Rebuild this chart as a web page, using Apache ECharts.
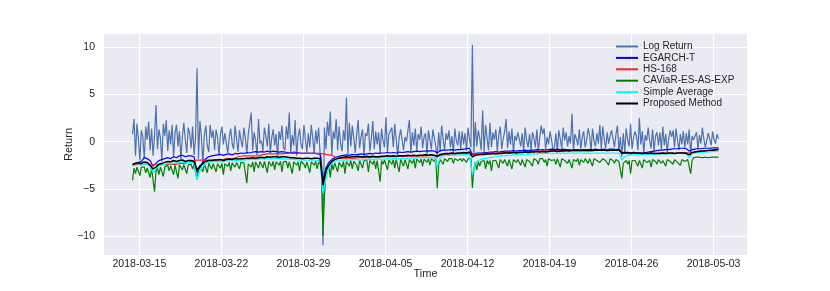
<!DOCTYPE html>
<html><head><meta charset="utf-8">
<script src="https://cdn.jsdelivr.net/npm/echarts@6/dist/echarts.min.js"></script>
<style>html,body{margin:0;padding:0;background:#fff}#c{width:830px;height:291px}</style>
</head><body><div id="c"></div>
<script>
// Time is measured in days from 2018-03-15 00:00; series start 2018-03-14 10:00
const startDay = -14/24;
const fineStepDays = 1/8;   // 3-hourly readings
const coarseStepDays = 1/4; // 6-hourly readings
const seriesNames = ['Log Return','EGARCH-T','HS-168','CAViaR-ES-AS-EXP','Simple Average','Proposed Method'];
const xTickDays = [0,7,14,21,28,35,42,49];
const yTicks = [-10,-5,0,5,10];

const logReturn = [
0.8,2.4,-1.5,1.9,0.3,-2.0,1.2,0.5,
-1.8,1.6,0.2,2.1,-0.9,1.4,-1.5,0.6,
3.9,-0.8,1.3,0.4,-2.1,1.9,0.6,2.3,
-1.0,1.2,-0.3,1.8,-1.6,0.9,1.8,-0.5,
1.1,-1.9,0.5,2.0,0.2,-1.2,1.5,0.9,
-0.7,1.6,-1.4,0.4,7.8,-1.8,2.2,0.6,
-2.4,0.7,1.7,-0.4,-1.1,1.8,0.4,1.2,
-0.9,1.3,0.5,-1.5,0.8,1.6,-0.3,0.9,
1.0,-1.2,0.5,1.4,-0.2,-0.8,1.7,0.3,
-1.1,1.2,0.2,-0.6,1.5,0.4,-1.3,0.8,
0.6,3.1,-0.9,1.0,0.1,-1.4,2.4,-0.2,
0.1,-1.0,1.5,0.6,-0.5,1.9,-1.2,0.4,
1.3,-0.4,0.8,-1.6,1.1,0.2,1.7,-0.6,
-0.9,1.6,0.3,3.1,-1.2,0.7,-0.4,2.3,
-1.5,0.5,1.4,-0.3,-0.8,1.8,0.2,-1.1,
0.9,-0.6,1.8,0.4,-1.3,1.2,-0.2,1.5,
-1.2,-1.9,-11.0,1.5,-0.8,2.1,0.6,3.2,
-1.4,1.1,0.3,2.4,-0.9,1.6,-0.2,-1.0,
1.2,0.1,4.7,-1.3,2.0,-0.5,1.7,0.4,
-1.2,0.8,2.3,-0.7,0.5,1.3,-1.5,0.9,
0.6,1.9,-1.0,0.3,2.2,-0.8,1.1,-0.3,
1.0,-1.3,1.4,0.1,-0.6,2.6,-1.1,0.8,
0.7,1.5,-0.6,1.9,0.2,-1.4,0.4,1.3,
1.1,-0.9,0.5,0.0,1.2,2.3,-1.2,1.0,
-0.4,1.4,-1.0,0.8,0.2,1.6,-0.7,0.5,
0.9,-1.3,1.2,0.2,-0.8,1.3,0.4,-0.5,
-1.5,1.0,-1.1,1.7,0.3,-0.9,0.9,0.2,
1.2,-0.6,0.6,-1.2,1.4,0.1,-0.4,1.1,
-0.8,1.1,-0.3,0.9,-1.0,1.5,0.3,-0.6,
10.3,-1.4,2.1,-0.5,1.2,0.4,-0.9,3.3,
-1.1,1.8,0.4,-0.9,2.0,-0.6,1.0,0.2,
1.3,-1.0,0.7,1.6,-0.8,0.3,1.1,2.4,
-0.7,1.1,-0.3,1.4,-1.1,0.6,0.1,1.0,
1.2,-0.5,0.9,-1.0,1.5,0.2,-0.6,0.8,
-0.9,1.0,0.4,-0.6,1.3,-1.0,0.5,1.7,
0.8,1.4,-0.8,0.5,-0.3,1.1,0.2,-0.9,
-0.6,0.9,-1.1,1.2,0.3,-0.7,1.5,0.1,
1.0,-0.5,0.6,-0.2,3.0,-0.9,0.8,0.3,
-0.4,1.3,-0.8,0.5,1.1,-0.6,0.2,1.4,
0.7,-1.0,1.4,0.1,-0.5,0.9,-0.2,1.8,
-0.8,1.6,0.3,-0.7,1.0,-0.2,0.6,1.2,
1.2,-0.6,0.8,1.7,-0.9,0.5,-1.6,0.9,
-1.1,1.4,0.2,-0.5,1.9,-0.8,0.4,1.1,
0.6,-0.9,2.5,-0.3,1.1,-1.2,0.7,0.1,
1.5,0.1,-0.7,1.3,-1.0,0.6,1.0,-0.4,
1.0,-0.8,1.6,-0.4,0.8,-1.1,0.3,1.2,
0.5,1.2,-0.6,1.4,0.2,-0.9,0.8,-0.3,
1.1,-0.7,0.9,-0.3,1.3,-1.4,0.6,0.2,
0.4,1.0,-0.8,0.7,-0.2,1.5,0.3,-0.6,
-0.5,0.9,0.3,-0.4,1.1,0.2,-0.2,0.8,
0.3];

const caviar = [
-4.1,-2.8,-3.4,-2.7,-2.9,-3.6,-2.7,-2.8,
-2.7,-3.3,-2.8,-2.9,-3.8,-2.8,-3.0,-5.3,
-3.2,-2.8,-3.5,-2.7,-2.8,-3.7,-2.7,-2.9,
-2.5,-3.1,-2.55,-2.5,-3.5,-2.5,-2.6,-3.9,
-2.45,-2.4,-3.0,-2.45,-2.4,-3.4,-2.45,-2.5,
-2.4,-2.9,-2.45,-2.4,-4.0,-3.0,-2.5,-2.45,
-3.2,-2.35,-2.4,-3.3,-2.3,-2.35,-2.9,-2.35,
-2.3,-3.2,-2.35,-2.3,-2.8,-2.3,-3.5,-2.35,
-2.25,-2.6,-2.2,-3.1,-2.25,-2.25,-2.7,-2.2,
-2.25,-2.9,-2.2,-2.35,-2.25,-2.2,-4.4,-2.35,
-2.2,-2.7,-2.15,-3.2,-2.15,-2.2,-2.8,-2.1,
-2.15,-2.8,-2.1,-2.2,-3.3,-2.1,-2.15,-2.6,
-2.1,-3.0,-2.15,-2.1,-2.5,-2.1,-3.2,-2.15,
-2.15,-2.1,-2.8,-2.15,-2.1,-3.4,-2.15,-2.1,
-2.5,-2.15,-3.1,-2.1,-2.15,-2.4,-2.8,-2.15,
-2.1,-3.3,-2.15,-2.15,-2.5,-2.1,-2.9,-2.2,
-2.2,-2.5,-10.0,-5.8,-3.4,-2.8,-2.5,-3.8,
-2.35,-3.0,-2.25,-2.3,-3.2,-2.2,-2.4,-2.7,
-2.1,-3.4,-2.1,-2.15,-2.6,-2.0,-2.9,-2.1,
-2.0,-2.5,-3.1,-2.0,-2.1,-2.8,-2.0,-2.05,
-2.0,-3.2,-2.0,-2.05,-2.4,-2.0,-2.9,-2.0,
-2.05,-4.25,-2.0,-2.4,-1.95,-2.0,-3.0,-1.95,
-1.95,-2.4,-1.9,-2.8,-1.9,-1.95,-3.2,-1.9,
-1.9,-2.6,-1.9,-1.95,-2.9,-1.9,-1.9,-2.3,
-1.85,-2.8,-1.85,-1.9,-2.2,-1.85,-2.6,-1.85,
-1.85,-2.2,-1.8,-2.5,-1.8,-1.85,-2.1,-1.8,
-4.95,-2.4,-1.9,-1.9,-2.4,-1.8,-1.9,-2.1,
-1.8,-2.0,-1.8,-2.3,-1.8,-1.8,-2.0,-1.8,
-1.8,-2.1,-1.8,-1.8,-2.2,-1.8,-1.9,-1.8,
-4.9,-2.9,-2.2,-3.0,-2.1,-2.6,-2.1,-2.2,
-2.0,-2.9,-2.0,-2.4,-2.0,-3.1,-2.0,-2.1,
-2.0,-2.2,-2.8,-1.9,-2.0,-2.3,-1.9,-2.0,
-2.6,-1.9,-2.0,-2.9,-1.9,-1.9,-2.2,-1.9,
-1.9,-2.5,-1.9,-2.0,-2.7,-1.9,-1.9,-2.1,
-1.9,-2.6,-1.8,-1.9,-2.0,-2.4,-1.8,-1.9,
-1.8,-2.2,-1.9,-2.6,-1.8,-1.9,-2.0,-1.8,
-1.9,-2.4,-1.8,-1.9,-2.7,-1.8,-1.9,-2.0,
-1.9,-2.3,-1.9,-1.9,-2.8,-1.9,-2.0,-2.1,
-1.8,-2.5,-1.9,-1.8,-2.2,-1.8,-1.9,-2.3,
-1.8,-1.9,-2.6,-1.8,-1.9,-2.0,-1.8,-2.2,
-2.4,-1.8,-1.9,-2.0,-1.8,-2.5,-1.8,-1.9,
-2.0,-2.3,-1.9,-1.9,-2.1,-1.9,-3.9,-2.3,
-2.2,-2.0,-2.4,-2.0,-3.4,-2.0,-2.2,-2.0,
-1.9,-2.6,-2.0,-1.9,-2.8,-1.9,-2.0,-2.2,
-2.2,-2.0,-2.7,-1.9,-2.0,-2.1,-2.4,-1.9,
-1.9,-2.3,-2.0,-1.9,-2.6,-1.9,-2.0,-2.1,
-2.0,-2.4,-1.9,-1.9,-2.2,-2.0,-2.5,-1.9,
-1.9,-2.1,-2.3,-1.9,-2.0,-3.4,-2.0,-1.7,
-1.7,-1.65,-1.7,-1.65,-1.65,-1.7,-1.65,-1.65,
-1.65,-1.7,-1.65,-1.65,-1.65,-1.65,-1.65,-1.65,
-1.65];

const egarchT = [
-2.5,-2.3,-2.2,-2.1,
-1.7,-1.8,-2.0,-2.6,
-2.3,-2.0,-1.9,-1.8,
-1.7,-1.8,-1.6,-1.7,
-1.5,-1.45,-1.6,-1.5,
-1.5,-1.6,-3.3,-2.7,
-2.2,-1.8,-1.6,-1.5,
-1.45,-1.4,-1.35,-1.45,
-1.35,-1.3,-1.4,-1.25,
-1.3,-1.2,-1.25,-1.15,
-1.2,-1.1,-1.05,-1.1,
-1.05,-1.1,-1.0,-1.1,
-1.0,-1.05,-1.1,-1.05,
-1.1,-1.15,-1.2,-1.1,
-1.15,-1.2,-1.25,-1.2,
-1.2,-1.25,-1.2,-1.3,
-1.3,-4.2,-2.8,-2.2,
-1.9,-1.7,-1.6,-1.5,
-1.45,-1.4,-1.45,-1.35,
-1.4,-1.35,-1.3,-1.35,
-1.3,-1.25,-1.3,-1.2,
-1.25,-1.2,-1.2,-1.15,
-1.2,-1.15,-1.2,-1.1,
-1.15,-1.1,-1.05,-1.1,
-1.05,-1.0,-1.05,-1.0,
-1.0,-1.0,-0.95,-1.0,
-1.2,-0.95,-0.9,-0.9,
-0.88,-0.85,-0.9,-0.85,
-0.85,-0.8,-0.75,-0.7,
-1.35,-1.25,-1.2,-1.2,
-1.15,-1.15,-1.1,-1.1,
-1.05,-1.1,-1.05,-1.0,
-1.0,-1.0,-0.95,-1.0,
-0.95,-0.95,-0.9,-0.95,
-0.9,-0.9,-0.85,-0.9,
-0.85,-0.9,-0.85,-0.8,
-0.85,-0.8,-0.85,-0.8,
-0.85,-0.85,-0.9,-0.85,
-0.85,-0.9,-0.85,-0.85,
-0.85,-0.85,-0.8,-0.85,
-0.85,-0.8,-0.85,-0.8,
-0.8,-0.85,-0.8,-1.25,
-1.25,-1.25,-1.3,-1.25,
-1.25,-1.2,-1.2,-1.15,
-1.1,-1.05,-1.0,-0.95,
-0.9,-0.9,-0.85,-0.85,
-0.8,-0.75,-0.75,-0.7,
-0.7,-0.75,-1.0,-0.85,
-0.8,-0.75,-0.75,-0.7,
-0.7,-0.7,-0.65,-0.65,
-0.65];

const hs168 = [
-2.4,-2.4,-2.4,-2.4,
-2.4,-2.4,-2.45,-2.45,
-2.45,-2.45,-2.45,-2.45,
-2.4,-2.4,-2.4,-2.4,
-2.3,-2.3,-2.3,-2.2,
-2.1,-2.0,-1.95,-1.95,
-1.95,-1.95,-1.95,-1.95,
-1.95,-1.9,-1.9,-1.9,
-1.8,-1.8,-1.8,-1.75,
-1.6,-1.55,-1.5,-1.5,
-1.5,-1.5,-1.5,-1.5,
-1.4,-1.35,-1.3,-1.3,
-1.3,-1.3,-1.3,-1.3,
-1.25,-1.25,-1.25,-1.25,
-1.25,-1.25,-1.25,-1.25,
-1.25,-1.25,-1.25,-1.25,
-1.25,-1.3,-1.35,-1.4,
-1.45,-1.6,-1.75,-1.75,
-1.75,-1.75,-1.75,-1.75,
-1.75,-1.7,-1.7,-1.7,
-1.7,-1.7,-1.65,-1.65,
-1.65,-1.65,-1.6,-1.6,
-1.6,-1.6,-1.6,-1.55,
-1.55,-1.55,-1.55,-1.5,
-1.5,-1.5,-1.5,-1.5,
-1.5,-1.45,-1.45,-1.45,
-1.5,-1.45,-1.4,-1.4,
-1.35,-1.35,-1.3,-1.3,
-1.3,-1.3,-1.3,-1.3,
-1.3,-1.3,-1.25,-1.25,
-1.25,-1.25,-1.2,-1.2,
-1.2,-1.2,-1.15,-1.15,
-1.15,-1.15,-1.1,-1.1,
-1.1,-1.1,-1.05,-1.05,
-1.05,-1.05,-1.0,-1.0,
-1.0,-1.0,-1.0,-0.95,
-0.95,-0.95,-0.95,-0.95,
-0.95,-0.95,-0.95,-0.95,
-0.95,-0.95,-0.95,-0.95,
-0.95,-0.95,-0.9,-0.9,
-0.9,-0.9,-0.9,-0.9,
-0.9,-0.9,-0.9,-1.1,
-1.2,-1.2,-1.25,-1.25,
-1.25,-1.25,-1.25,-1.25,
-1.25,-1.25,-1.25,-1.25,
-1.2,-1.2,-1.2,-1.2,
-1.2,-1.2,-1.2,-1.15,
-1.15,-1.15,-1.2,-1.15,
-1.1,-1.05,-1.0,-1.0,
-0.95,-0.95,-0.9,-0.9,
-0.9];

const simpleAvg = [
-2.6,-2.5,-2.45,-2.5,
-2.35,-2.4,-2.7,-3.3,
-2.9,-2.6,-2.45,-2.4,
-2.3,-2.35,-2.25,-2.3,
-2.2,-2.15,-2.25,-2.2,
-2.2,-2.3,-4.0,-3.1,
-2.6,-2.35,-2.2,-2.15,
-2.1,-2.15,-2.1,-2.15,
-2.05,-2.0,-2.05,-2.0,
-2.0,-1.95,-1.95,-1.9,
-1.9,-1.85,-1.9,-1.85,
-1.8,-1.85,-1.8,-1.85,
-1.8,-1.75,-1.8,-1.8,
-1.8,-1.85,-1.85,-1.9,
-1.9,-1.95,-1.9,-1.95,
-1.95,-1.9,-1.95,-2.0,
-2.0,-5.5,-3.9,-2.8,
-2.3,-2.1,-2.0,-1.95,
-1.95,-1.9,-1.95,-1.9,
-1.9,-1.9,-1.95,-1.9,
-1.9,-1.85,-1.9,-1.85,
-1.85,-1.9,-1.85,-1.8,
-1.85,-1.8,-1.8,-1.8,
-1.75,-1.8,-1.75,-1.75,
-1.7,-1.75,-1.7,-1.7,
-1.7,-1.65,-1.7,-1.65,
-2.65,-1.7,-1.5,-1.45,
-1.45,-1.4,-1.45,-1.4,
-1.4,-1.4,-1.35,-1.35,
-3.5,-2.3,-2.0,-1.85,
-1.8,-1.75,-1.7,-1.65,
-1.6,-1.55,-1.5,-1.5,
-1.45,-1.45,-1.4,-1.4,
-1.4,-1.35,-1.35,-1.35,
-1.3,-1.3,-1.3,-1.25,
-1.25,-1.25,-1.25,-1.25,
-1.25,-1.2,-1.25,-1.2,
-1.25,-1.2,-1.2,-1.25,
-1.2,-1.2,-1.25,-1.2,
-1.25,-1.2,-1.2,-1.25,
-1.2,-1.2,-1.25,-1.2,
-1.2,-1.25,-1.2,-1.95,
-1.6,-1.45,-1.4,-1.4,
-1.4,-1.4,-1.35,-1.4,
-1.35,-1.35,-1.35,-1.3,
-1.3,-1.3,-1.3,-1.3,
-1.3,-1.25,-1.25,-1.25,
-1.25,-1.3,-1.7,-1.3,
-1.2,-1.15,-1.15,-1.1,
-1.1,-1.05,-1.05,-1.0,
-1.0];

const proposed = [
-2.4,-2.3,-2.25,-2.3,
-2.15,-2.2,-2.5,-2.9,
-2.7,-2.4,-2.3,-2.2,
-2.1,-2.15,-2.0,-2.1,
-2.0,-1.95,-2.1,-2.0,
-2.0,-2.1,-3.0,-2.6,
-2.3,-2.1,-2.0,-2.0,
-1.95,-1.95,-1.9,-2.0,
-1.9,-1.85,-1.9,-1.8,
-1.85,-1.8,-1.8,-1.75,
-1.75,-1.7,-1.75,-1.7,
-1.65,-1.7,-1.6,-1.65,
-1.6,-1.6,-1.65,-1.6,
-1.6,-1.65,-1.7,-1.7,
-1.75,-1.75,-1.8,-1.75,
-1.75,-1.8,-1.75,-1.75,
-1.8,-4.6,-3.0,-2.5,
-2.1,-1.9,-1.8,-1.7,
-1.65,-1.6,-1.65,-1.6,
-1.6,-1.55,-1.6,-1.6,
-1.55,-1.6,-1.55,-1.6,
-1.6,-1.55,-1.55,-1.5,
-1.55,-1.5,-1.55,-1.5,
-1.5,-1.5,-1.45,-1.5,
-1.45,-1.5,-1.45,-1.45,
-1.4,-1.45,-1.4,-1.45,
-1.6,-1.35,-1.3,-1.25,
-1.25,-1.2,-1.25,-1.2,
-1.2,-1.15,-1.2,-1.1,
-1.6,-1.45,-1.4,-1.35,
-1.35,-1.3,-1.3,-1.25,
-1.3,-1.25,-1.25,-1.2,
-1.2,-1.2,-1.15,-1.2,
-1.15,-1.15,-1.1,-1.15,
-1.1,-1.1,-1.05,-1.1,
-1.05,-1.1,-1.05,-1.0,
-1.0,-1.05,-1.0,-1.0,
-0.95,-1.0,-0.95,-0.95,
-0.95,-0.95,-0.9,-0.95,
-0.9,-0.95,-0.9,-0.9,
-0.9,-0.9,-0.95,-0.9,
-0.9,-0.9,-0.85,-1.2,
-1.15,-1.15,-1.2,-1.15,
-1.2,-1.2,-1.25,-1.2,
-1.25,-1.2,-1.25,-1.25,
-1.25,-1.2,-1.25,-1.2,
-1.2,-1.25,-1.2,-1.2,
-1.2,-1.25,-1.4,-1.15,
-1.1,-1.05,-1.0,-1.0,
-0.95,-0.9,-0.9,-0.85,
-0.8];

function pair(vals, step){ return vals.map((v,i)=>[startDay + i*step, v]); }
function dateLabel(d){
  const t = new Date(Date.UTC(2018,2,15) + Math.round(d*86400000));
  return t.toISOString().slice(0,10);
}
const FONT = 'Liberation Sans, Arial, sans-serif';
const TXT = '#262626';
const chart = echarts.init(document.getElementById('c'), null, {renderer:'canvas'});
const mk = (name, data, color, width, z) => ({
  name, type:'line', data, showSymbol:false, symbol:'none', z,
  lineStyle:{color, width}, itemStyle:{color}, animation:false, silent:true
});
chart.setOption({
  animation:false,
  backgroundColor:'#ffffff',
  textStyle:{fontFamily:FONT},
  grid:{left:104, right:83, top:34, bottom:36, show:true, backgroundColor:'#EAEAF2', borderWidth:0},
  xAxis:{
    type:'value', min:-3.02, max:51.85,
    name:'Time', nameLocation:'middle', nameGap:13, nameMoveOverlap:false,
    nameTextStyle:{fontSize:11, color:TXT, fontFamily:FONT},
    axisLine:{show:false},
    axisTick:{show:false, customValues:xTickDays},
    axisLabel:{customValues:xTickDays, formatter:dateLabel, fontSize:10.5, color:TXT, margin:4, fontFamily:FONT},
    splitLine:{show:true, lineStyle:{color:'#ffffff', width:1.2}}
  },
  yAxis:{
    type:'value', min:-12.03, max:11.43,
    name:'Return', nameLocation:'middle', nameGap:30, nameRotate:90, nameMoveOverlap:false,
    nameTextStyle:{fontSize:11, color:TXT, fontFamily:FONT},
    axisLine:{show:false},
    axisTick:{show:false, customValues:yTicks},
    axisLabel:{customValues:yTicks, formatter:v=> v<0 ? '\u2212'+Math.abs(v) : String(v), fontSize:10.5, color:TXT, margin:9, fontFamily:FONT},
    splitLine:{show:true, lineStyle:{color:'#ffffff', width:1.2}}
  },
  legend:{
    orient:'vertical', left:611, top:36, itemWidth:22, itemHeight:2, itemGap:0.4, icon:'rect',
    textStyle:{fontSize:10, color:TXT, fontFamily:FONT, lineHeight:11}, itemStyle:{borderWidth:0},
    data:seriesNames
  },
  series:[
    mk(seriesNames[0], pair(logReturn, fineStepDays), '#4C72B0', 1.2, 1),
    mk(seriesNames[1], pair(egarchT, coarseStepDays), '#0000FF', 1.2, 2),
    mk(seriesNames[2], pair(hs168, coarseStepDays), '#FF2020', 1.2, 3),
    mk(seriesNames[3], pair(caviar, fineStepDays), '#008000', 1.2, 4),
    mk(seriesNames[4], pair(simpleAvg, coarseStepDays), '#00FFFF', 1.2, 5),
    mk(seriesNames[5], pair(proposed, coarseStepDays), '#000000', 1.5, 6)
  ]
});
</script></body></html>
